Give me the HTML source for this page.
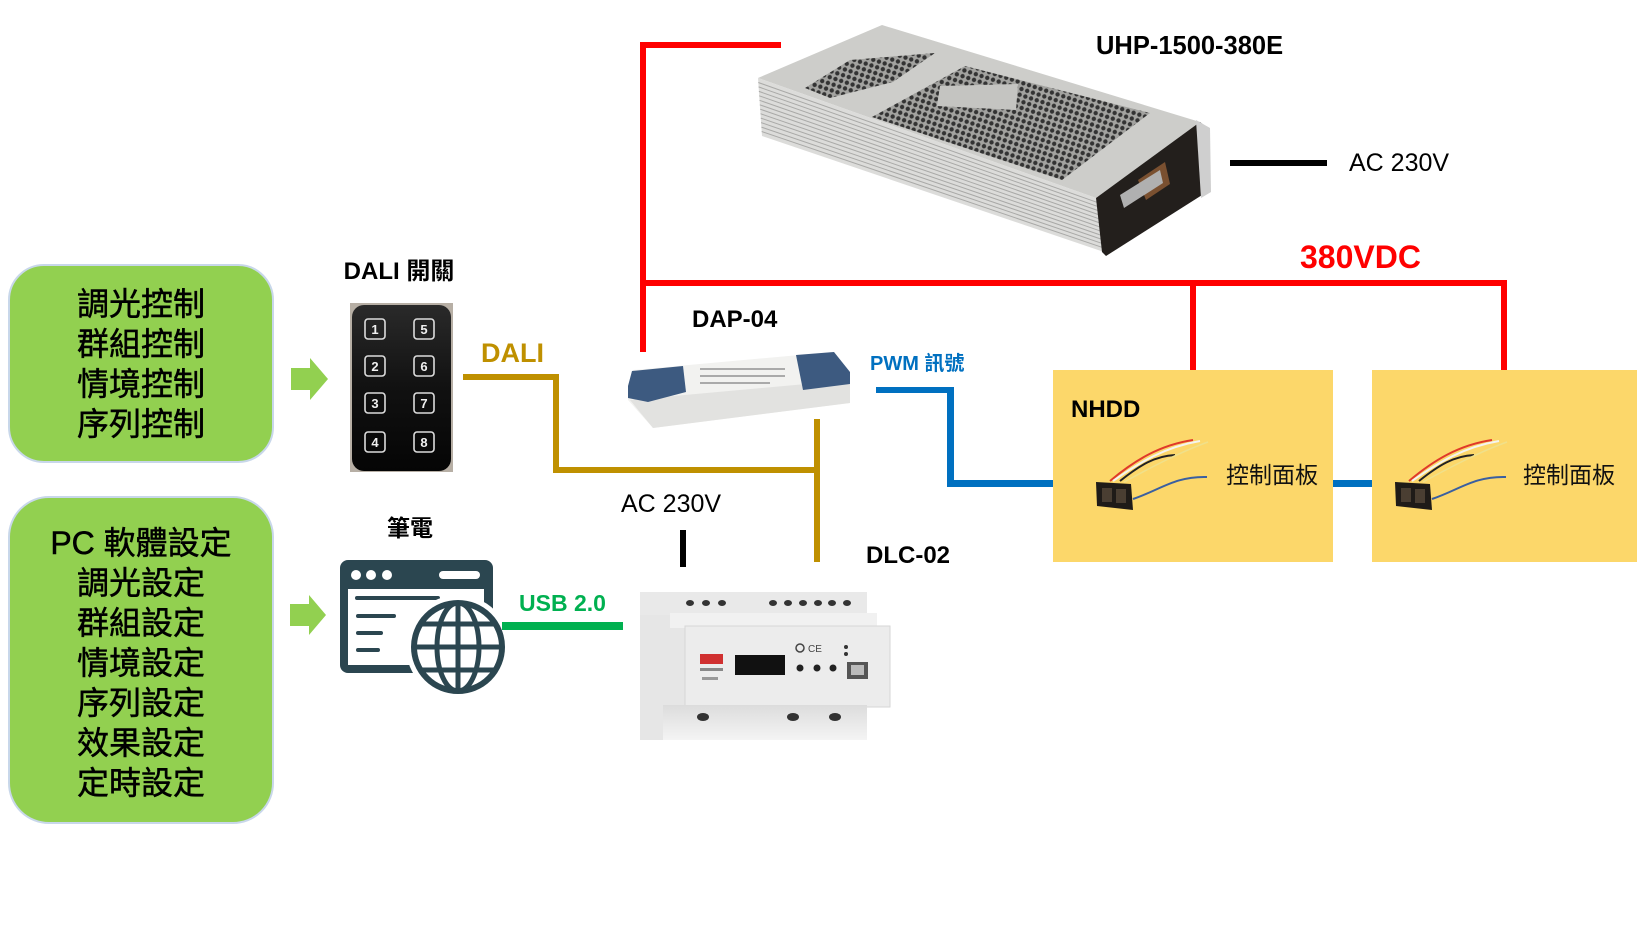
<!DOCTYPE html>
<html>
<head>
<meta charset="utf-8">
<style>
  html,body{margin:0;padding:0;background:#fff;}
  svg{display:block;}
  .cjk{font-family:"Liberation Sans","Noto Sans CJK TC","Noto Sans CJK SC",sans-serif;}
  .b{font-weight:bold;}
</style>
</head>
<body>
<svg width="1637" height="937" viewBox="0 0 1637 937" xmlns="http://www.w3.org/2000/svg">
  <defs>
    <pattern id="mesh" width="6" height="6" patternUnits="userSpaceOnUse" patternTransform="rotate(18)">
      <rect width="6" height="6" fill="#a3a3a0"/>
      <circle cx="3" cy="3" r="2.2" fill="#333"/>
    </pattern>
    <linearGradient id="swg" x1="0" y1="0" x2="0" y2="1">
      <stop offset="0" stop-color="#2a2a2a"/>
      <stop offset="0.5" stop-color="#111"/>
      <stop offset="1" stop-color="#050505"/>
    </linearGradient>
    <linearGradient id="dlcb" x1="0" y1="0" x2="0" y2="1">
      <stop offset="0" stop-color="#dcdcdc"/>
      <stop offset="1" stop-color="#f4f4f4"/>
    </linearGradient>
  </defs>

  <!-- Green boxes -->
  <rect x="9" y="265" width="264" height="197" rx="35" fill="#92d050" stroke="#c8d7ea" stroke-width="2"/>
  <rect x="9" y="497" width="264" height="326" rx="40" fill="#92d050" stroke="#c8d7ea" stroke-width="2"/>

  <g class="cjk" font-size="32" fill="#000" stroke="#000" stroke-width="0.5" text-anchor="middle">
    <text x="141" y="315">調光控制</text>
    <text x="141" y="355">群組控制</text>
    <text x="141" y="395">情境控制</text>
    <text x="141" y="435">序列控制</text>
    <text x="141" y="554">PC 軟體設定</text>
    <text x="141" y="594">調光設定</text>
    <text x="141" y="634">群組設定</text>
    <text x="141" y="674">情境設定</text>
    <text x="141" y="714">序列設定</text>
    <text x="141" y="754">效果設定</text>
    <text x="141" y="794">定時設定</text>
  </g>

  <!-- Green arrows -->
  <polygon points="291,368 310,368 310,358 328,379 310,400 310,390 291,390" fill="#92d050"/>
  <polygon points="290,604 309,604 309,595 326,615 309,635 309,626 290,626" fill="#92d050"/>

  <!-- DALI switch -->
  <rect x="350" y="303" width="103" height="169" fill="#b7afa5"/>
  <rect x="352" y="305" width="99" height="166" rx="12" fill="url(#swg)"/>
  <g fill="none" stroke="#dcdcdc" stroke-width="1.6">
    <rect x="365" y="319" width="20" height="20" rx="3"/>
    <rect x="414" y="319" width="20" height="20" rx="3"/>
    <rect x="365" y="356" width="20" height="20" rx="3"/>
    <rect x="414" y="356" width="20" height="20" rx="3"/>
    <rect x="365" y="393" width="20" height="20" rx="3"/>
    <rect x="414" y="393" width="20" height="20" rx="3"/>
    <rect x="365" y="432" width="20" height="20" rx="3"/>
    <rect x="414" y="432" width="20" height="20" rx="3"/>
  </g>
  <g font-family="Liberation Sans, sans-serif" font-weight="bold" font-size="13" fill="#f0f0f0" text-anchor="middle">
    <text x="375" y="334">1</text><text x="424" y="334">5</text>
    <text x="375" y="371">2</text><text x="424" y="371">6</text>
    <text x="375" y="408">3</text><text x="424" y="408">7</text>
    <text x="375" y="447">4</text><text x="424" y="447">8</text>
  </g>

  <!-- Laptop / browser icon -->
  <rect x="340" y="560" width="153" height="113" rx="8" fill="#2b4650"/>
  <rect x="348" y="589" width="136" height="76" fill="#fff"/>
  <circle cx="356" cy="575" r="5" fill="#fff"/>
  <circle cx="371" cy="575" r="5" fill="#fff"/>
  <circle cx="387" cy="575" r="5" fill="#fff"/>
  <rect x="439" y="571" width="41" height="8" rx="4" fill="#fff"/>
  <rect x="355" y="596" width="85" height="4" rx="2" fill="#2b4650"/>
  <rect x="356" y="614" width="40" height="4" rx="2" fill="#2b4650"/>
  <rect x="356" y="631" width="27" height="4" rx="2" fill="#2b4650"/>
  <rect x="356" y="648" width="24" height="4" rx="2" fill="#2b4650"/>
  <circle cx="458" cy="647" r="52" fill="#fff"/>
  <g fill="none" stroke="#2b4650">
    <circle cx="458" cy="647" r="44" stroke-width="6" fill="#fff"/>
    <ellipse cx="458" cy="647" rx="21" ry="44" stroke-width="5"/>
    <line x1="458" y1="603" x2="458" y2="691" stroke-width="5"/>
    <line x1="414" y1="647" x2="502" y2="647" stroke-width="5"/>
    <line x1="421" y1="624" x2="495" y2="624" stroke-width="5"/>
    <line x1="421" y1="670" x2="495" y2="670" stroke-width="5"/>
  </g>

  <!-- Labels -->
  <text class="cjk b" x="399" y="279" font-size="24" text-anchor="middle" fill="#000">DALI 開關</text>
  <text class="cjk b" x="410" y="536" font-size="23" text-anchor="middle" fill="#000">筆電</text>
  <text class="cjk b" x="481" y="362" font-size="27" fill="#bf9000">DALI</text>
  <text class="cjk b" x="692" y="327" font-size="24" fill="#000">DAP-04</text>
  <text class="cjk b" x="870" y="370" font-size="20" fill="#0070c0">PWM 訊號</text>
  <text class="cjk" x="621" y="512" font-size="25" fill="#000">AC 230V</text>
  <text class="cjk" x="1349" y="171" font-size="25" fill="#000">AC 230V</text>
  <text class="cjk b" x="866" y="563" font-size="24" fill="#000">DLC-02</text>
  <text class="cjk b" x="1096" y="54" font-size="25.5" fill="#000">UHP-1500-380E</text>
  <text class="cjk b" x="1300" y="268" font-size="32" fill="#ff0000">380VDC</text>
  <text class="cjk b" x="519" y="611" font-size="23" fill="#00b050">USB 2.0</text>

  <!-- PSU -->
  <polygon points="882,25 1200,122 1096,198 758,78" fill="#cdcdca"/>
  <polygon points="805,88 850,60 935,53 893,82 830,98" fill="url(#mesh)"/>
  <polygon points="872,117 965,66 1150,113 1062,180" fill="url(#mesh)"/>
  <polygon points="940,86 1018,84 1016,110 937,106" fill="#c4c4c1"/>
  <polygon points="758,78 1096,198 1104,252 762,136" fill="#dcdcda"/>
  <g stroke="#a9a9a7" stroke-width="1">
    <line x1="758.3" y1="82.5" x2="1096.6" y2="202.2"/>
    <line x1="758.6" y1="86.9" x2="1097.2" y2="206.3"/>
    <line x1="758.9" y1="91.4" x2="1097.8" y2="210.5"/>
    <line x1="759.2" y1="95.8" x2="1098.5" y2="214.6"/>
    <line x1="759.5" y1="100.3" x2="1099.1" y2="218.8"/>
    <line x1="759.8" y1="104.8" x2="1099.7" y2="222.9"/>
    <line x1="760.2" y1="109.2" x2="1100.3" y2="227.1"/>
    <line x1="760.5" y1="113.7" x2="1100.9" y2="231.2"/>
    <line x1="760.8" y1="118.1" x2="1101.5" y2="235.4"/>
    <line x1="761.1" y1="122.6" x2="1102.2" y2="239.5"/>
    <line x1="761.4" y1="127.1" x2="1102.8" y2="243.7"/>
    <line x1="761.7" y1="131.5" x2="1103.4" y2="247.8"/>
  </g>
  <polygon points="1096,198 1200,122 1210,130 1210,190 1106,256 1102,252" fill="#231f1c"/>
  <polygon points="1138,180 1165,162 1170,184 1146,200" fill="#7a5030"/>
  <polygon points="1120,195 1160,170 1163,183 1124,208" fill="#b0b0b0"/>
  <polygon points="1196,120 1210,128 1211,192 1201,198" fill="#cfcfcf"/>

  <!-- DAP-04 device -->
  <polygon points="633,370 833,352 850,373 850,403 653,428 628,400 628,387" fill="#f2f2f0"/>
  <polygon points="630,400 850,380 850,403 653,428" fill="#e2e2e0"/>
  <polygon points="632,371 683,366 686,392 648,402 628,398 628,386" fill="#3d5a80"/>
  <polygon points="796,355 834,352 850,372 850,384 803,390" fill="#3d5a80"/>
  <g fill="#aaa">
    <rect x="700" y="368" width="85" height="2"/>
    <rect x="700" y="375" width="85" height="2"/>
    <rect x="700" y="382" width="70" height="2"/>
  </g>

  <!-- DLC-02 device -->
  <rect x="640" y="592" width="45" height="148" fill="#e6e6e6"/>
  <rect x="640" y="592" width="227" height="23" fill="#e9e9e9"/>
  <rect x="670" y="613" width="207" height="15" fill="#f1f1f1"/>
  <rect x="685" y="626" width="205" height="81" fill="#ececec" stroke="#d6d6d6" stroke-width="1"/>
  <rect x="663" y="705" width="204" height="35" fill="url(#dlcb)"/>
  <g fill="#333">
    <ellipse cx="690" cy="603" rx="4" ry="3"/><ellipse cx="706" cy="603" rx="4" ry="3"/><ellipse cx="722" cy="603" rx="4" ry="3"/>
    <ellipse cx="773" cy="603" rx="4" ry="3"/><ellipse cx="788" cy="603" rx="4" ry="3"/><ellipse cx="803" cy="603" rx="4" ry="3"/>
    <ellipse cx="818" cy="603" rx="4" ry="3"/><ellipse cx="832" cy="603" rx="4" ry="3"/><ellipse cx="847" cy="603" rx="4" ry="3"/>
    <ellipse cx="703" cy="717" rx="6" ry="4"/><ellipse cx="793" cy="717" rx="6" ry="4"/><ellipse cx="835" cy="717" rx="6" ry="4"/>
  </g>
  <rect x="735" y="655" width="50" height="20" fill="#111"/>
  <rect x="700" y="654" width="23" height="10" fill="#d03030"/>
  <rect x="700" y="668" width="23" height="3" fill="#888"/>
  <rect x="702" y="677" width="16" height="3" fill="#999"/>
  <circle cx="800" cy="668" r="3.5" fill="#222"/>
  <circle cx="817" cy="668" r="3.5" fill="#222"/>
  <circle cx="833" cy="668" r="3.5" fill="#222"/>
  <circle cx="800" cy="648" r="4" fill="none" stroke="#444" stroke-width="1.5"/>
  <text x="808" y="652" font-family="Liberation Sans, sans-serif" font-size="10" fill="#444">CE</text>
  <rect x="847" y="662" width="21" height="17" fill="#555"/>
  <rect x="851" y="665" width="13" height="10" fill="#bbb"/>
  <circle cx="846" cy="647" r="2" fill="#333"/>
  <circle cx="846" cy="654" r="2" fill="#333"/>

  <!-- Red lines -->
  <g fill="#ff0000">
    <rect x="640" y="42" width="141" height="6"/>
    <rect x="640" y="42" width="6" height="310"/>
    <rect x="640" y="280" width="867" height="6"/>
    <rect x="1190" y="280" width="6" height="90"/>
    <rect x="1501" y="280" width="6" height="90"/>
  </g>

  <!-- Gold DALI lines -->
  <g fill="#bf9000">
    <rect x="463" y="374" width="96" height="6"/>
    <rect x="553" y="374" width="6" height="99"/>
    <rect x="553" y="467" width="267" height="6"/>
    <rect x="814" y="419" width="6" height="143"/>
  </g>

  <!-- Blue PWM lines -->
  <g fill="#0070c0">
    <rect x="876" y="387" width="78" height="6"/>
    <rect x="947" y="387" width="7" height="100"/>
    <rect x="947" y="480" width="106" height="7"/>
    <rect x="1333" y="480" width="39" height="7"/>
  </g>

  <!-- Black lines -->
  <rect x="1230" y="160" width="97" height="6" fill="#000"/>
  <rect x="680" y="530" width="6" height="37" fill="#000"/>

  <!-- Green USB line -->
  <rect x="502" y="622" width="121" height="8" fill="#00b050"/>

  <!-- NHDD boxes -->
  <rect x="1053" y="370" width="280" height="192" fill="#fcd76a"/>
  <rect x="1372" y="370" width="265" height="192" fill="#fcd76a"/>
  <text class="cjk b" x="1071" y="417" font-size="24" fill="#000">NHDD</text>
  <text class="cjk" x="1226" y="483" font-size="23" fill="#111">控制面板</text>
  <text class="cjk" x="1523" y="483" font-size="23" fill="#111">控制面板</text>

  <!-- connector 1 -->
  <g id="conn">
    <path d="M1110,481 C1135,460 1160,445 1193,440" stroke="#e03a2a" stroke-width="2" fill="none"/>
    <path d="M1113,481 C1140,462 1165,447 1200,441" stroke="#f4f4f0" stroke-width="2" fill="none"/>
    <path d="M1120,481 C1140,465 1155,456 1175,455" stroke="#222" stroke-width="2" fill="none"/>
    <path d="M1124,482 C1150,468 1180,452 1208,442" stroke="#f0e08a" stroke-width="1.5" fill="none"/>
    <path d="M1133,499 C1160,490 1175,476 1207,477" stroke="#3a5fa0" stroke-width="2" fill="none"/>
    <polygon points="1096,482 1131,484 1133,510 1097,506" fill="#1f1b18"/>
    <rect x="1102" y="488" width="10" height="14" fill="#4a3e32"/>
    <rect x="1116" y="489" width="10" height="14" fill="#4a3e32"/>
  </g>
  <use href="#conn" x="299" y="0"/>
</svg>
</body>
</html>
